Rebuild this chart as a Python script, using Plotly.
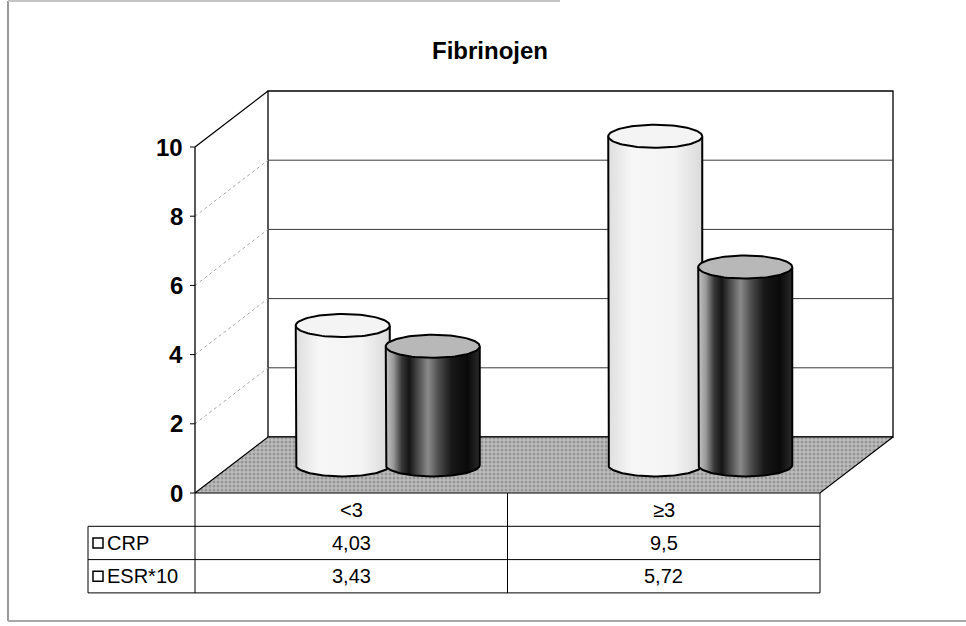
import numpy as np
import plotly.graph_objects as go

# ---- data -------------------------------------------------------------
title_text = "Fibrinojen"
categories = ["<3", "≥3"]
series_names = ["CRP", "ESR*10"]
crp_values = [4.03, 9.5]
esr10_values = [3.43, 5.72]
y_ticks = [0, 2, 4, 6, 8, 10]
y_max = 10

# ---- canvas / projection settings -------------------------------------
W, H = 966, 626
PX_X = 312.5          # pixels per category unit
PX_Y = 34.6           # pixels per value unit
X0_PX, Y0_PX = 195, 493   # front-left corner of the floor, in pixels
x_range = [-0.5 - X0_PX / PX_X, -0.5 + (W - X0_PX) / PX_X]
y_range = [-(H - Y0_PX) / PX_Y, Y0_PX / PX_Y]

DX = 73 / PX_X        # oblique depth offset (x)
DY = 56 / PX_Y        # oblique depth offset (y)
BAR_R = 47 / PX_X     # cylinder radius
BAR_B = 11.5 / PX_Y   # vertical semi-axis of the cylinder ellipses
GROUP_OFF = 45 / PX_X
ROW_H = 33.3 / PX_Y
LEFT_X = -0.5 - 107 / PX_X
x_lo, x_hi = -0.5, len(categories) - 0.5

FONT = "Liberation Sans, Arial, sans-serif"

fig = go.Figure()


def line(xs, ys, color="black", width=1, dash="solid"):
    fig.add_trace(go.Scatter(x=xs, y=ys, mode="lines", hoverinfo="skip",
                             line=dict(color=color, width=width, dash=dash)))


def poly(xs, ys, fill, lc="black", lw=1, **kw):
    fig.add_trace(go.Scatter(x=list(xs), y=list(ys), mode="lines", fill="toself",
                             fillcolor=fill, hoverinfo="skip",
                             line=dict(color=lc, width=lw), **kw))


# ---- walls and floor --------------------------------------------------
poly([x_lo + DX, x_lo + DX, x_hi + DX, x_hi + DX, x_lo + DX],
     [DY, y_max + DY, y_max + DY, DY, DY], "white", lw=1.3)
for v in y_ticks[1:-1]:
    line([x_lo + DX, x_hi + DX], [v + DY, v + DY], color="#3a3a3a", width=1)
    line([x_lo, x_lo + DX], [v, v + DY], color="#a8a8a8", width=1, dash="dot")
line([x_lo, x_lo + DX], [y_max, y_max + DY], width=1.3)

# stippled floor
poly([x_lo, x_hi, x_hi + DX, x_lo + DX, x_lo], [0, 0, DY, DY, 0], "#b4b4b4", lw=1.2,
     fillpattern=dict(shape=".", bgcolor="#bdbdbd", fgcolor="#707070",
                      size=4, solidity=0.45))

# ---- cylinders ----------------------------------------------------------
t_low = np.linspace(np.pi, 2 * np.pi, 60)
t_full = np.linspace(0, 2 * np.pi, 100)

crp_scale = [[0, "#dedede"], [0.25, "#f7f7f7"], [0.7, "#f4f4f4"], [1, "#dadada"]]
esr_scale = [[0, "#c4c4c4"], [0.08, "#9a9a9a"], [0.17, "#383838"], [0.25, "#141414"],
             [0.34, "#4a4a4a"], [0.45, "#8a8a8a"], [0.56, "#4e4e4e"], [0.7, "#181818"],
             [0.87, "#0a0a0a"], [1, "#2a2a2a"]]


def cylinder(xc, value, scale, top_color):
    yb = 0.5 * DY
    yt = value + 0.5 * DY
    bx = [xc - BAR_R] + list(xc + BAR_R * np.cos(t_low)) + [xc + BAR_R]
    by = [yt] + list(yb + BAR_B * np.sin(t_low)) + [yt]
    fig.add_trace(go.Scatter(
        x=bx, y=by, mode="lines", fill="toself", hoverinfo="skip",
        line=dict(color="black", width=2),
        fillgradient=dict(type="horizontal", colorscale=scale,
                          start=xc - BAR_R, stop=xc + BAR_R)))
    poly(xc + BAR_R * np.cos(t_full), yt + BAR_B * np.sin(t_full), top_color, lw=2)


for i, cat in enumerate(categories):
    xc = i + 0.5 * DX
    cylinder(xc - GROUP_OFF, crp_values[i], crp_scale, "#f4f4f4")
    cylinder(xc + GROUP_OFF, esr10_values[i], esr_scale, "#b8b8b8")

# ---- value axis -----------------------------------------------------------
line([x_lo, x_lo], [0, y_max], width=1.3)
for v in y_ticks:
    line([x_lo - 5 / PX_X, x_lo], [v, v], width=1)

annotations = []
for v in y_ticks:
    annotations.append(dict(x=x_lo - 10 / PX_X, y=v, xref="x", yref="y",
                            text=f"<b>{v}</b>", showarrow=False, xanchor="right",
                            yanchor="middle", font=dict(family=FONT, size=24, color="black")))

# ---- data table -------------------------------------------------------------
rows = [crp_values, esr10_values]
n_lines = len(rows) + 1
for k in range(1, n_lines + 1):
    line([LEFT_X, x_hi], [-k * ROW_H, -k * ROW_H], width=1)
line([LEFT_X, LEFT_X], [-ROW_H, -n_lines * ROW_H], width=1)
for j in range(len(categories) + 1):
    line([x_lo + j, x_lo + j], [0, -n_lines * ROW_H], width=1)

for i, cat in enumerate(categories):
    annotations.append(dict(x=i, y=-0.5 * ROW_H, xref="x", yref="y", text=cat,
                            showarrow=False, font=dict(family=FONT, size=20, color="black")))

for r, (name, vals) in enumerate(zip(series_names, rows)):
    yc = -(r + 1.5) * ROW_H
    fig.add_trace(go.Scatter(x=[LEFT_X + 10 / PX_X], y=[yc], mode="markers", hoverinfo="skip",
                             marker=dict(symbol="square", size=10, color="white",
                                         line=dict(color="black", width=1.5))))
    annotations.append(dict(x=LEFT_X + 17 / PX_X, y=yc, xref="x", yref="y", text=name,
                            showarrow=False, xanchor="left",
                            font=dict(family=FONT, size=20, color="black")))
    for i, v in enumerate(vals):
        annotations.append(dict(x=i, y=yc, xref="x", yref="y",
                                text=f"{v:g}".replace(".", ","), showarrow=False,
                                font=dict(family=FONT, size=20, color="black")))

annotations.append(dict(x=490 / W, y=1 - 35 / H, xref="paper", yref="paper",
                        text=f"<b>{title_text}</b>", showarrow=False,
                        font=dict(family=FONT, size=24, color="black")))

# ---- outer frame --------------------------------------------------------------
frame = [
    dict(type="line", xref="paper", yref="paper", x0=8 / W, x1=8 / W,
         y0=1 - 1 / H, y1=1 - 621 / H, line=dict(color="#9a9a9a", width=2)),
    dict(type="line", xref="paper", yref="paper", x0=8 / W, x1=560 / W,
         y0=1 - 1 / H, y1=1 - 1 / H, line=dict(color="#c4c4c4", width=2)),
    dict(type="line", xref="paper", yref="paper", x0=8 / W, x1=1,
         y0=1 - 621 / H, y1=1 - 621 / H, line=dict(color="#a8a8a8", width=2)),
]

fig.update_layout(
    width=W, height=H, margin=dict(l=0, r=0, t=0, b=0),
    paper_bgcolor="white", plot_bgcolor="white", showlegend=False,
    xaxis=dict(range=x_range, visible=False, fixedrange=True),
    yaxis=dict(range=y_range, visible=False, fixedrange=True),
    annotations=annotations, shapes=frame,
)

fig.write_html("out.html")
